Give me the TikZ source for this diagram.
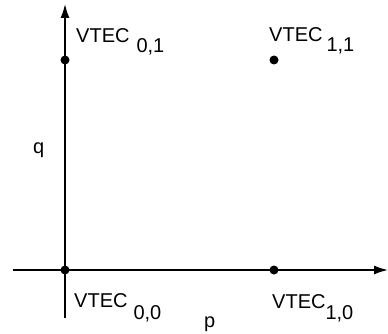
\documentclass[tikz,border=0pt]{standalone}
\usepackage{fontspec}
\setmainfont{Liberation Sans}
\usetikzlibrary{arrows.meta}
\tikzset{
    axis/.style={line width=1.5pt, -{Latex[length=14pt,width=9pt]}},
    lbl/.style={anchor=base west, inner sep=0pt, font=\fontsize{20}{24}\selectfont},
}
\newcommand{\vtec}[3]{VTEC\hspace{#2pt}\raisebox{-#3pt}{#1}}
\begin{document}
\begin{tikzpicture}[x=1pt, y=-1pt]
    \useasboundingbox (0,0) rectangle (388,334);

    % grid corners
    \coordinate (v00) at (65,270);
    \coordinate (v10) at (274,270);
    \coordinate (v01) at (65,60);
    \coordinate (v11) at (274,60);
    \coordinate (pstart) at (13,270);
    \coordinate (pend) at (388,270);
    \coordinate (qstart) at (65,318);
    \coordinate (qend) at (65,4);

    \draw[axis] (pstart) -- (pend);
    \draw[axis] (qstart) -- (qend);

    \foreach \c in {v00,v10,v01,v11}
        \fill (\c) circle (4.5pt);

    \node[lbl] (l01) at (76,43) {\vtec{0,1}{7}{10}};
    \node[lbl] (l11) at (269,42) {\vtec{1,1}{4}{10}};
    \node[lbl] (l00) at (74,307) {\vtec{0,0}{6}{12}};
    \node[lbl] (l10) at (272,308) {\vtec{1,0}{0}{11}};

    \node[lbl] (q) at (33,153.5) {q};
    \node[lbl] (p) at (204,327.5) {p};
\end{tikzpicture}
\end{document}
